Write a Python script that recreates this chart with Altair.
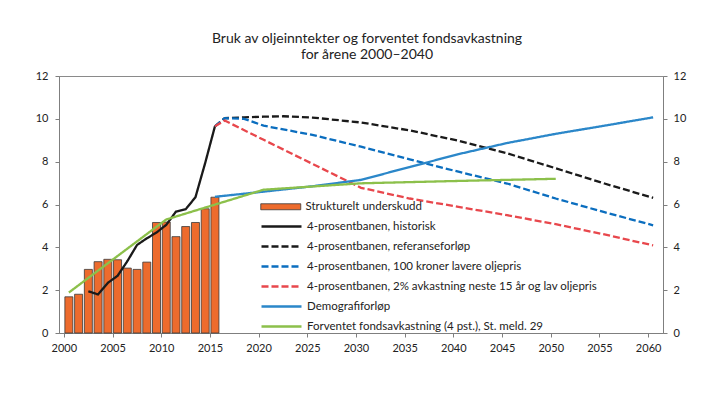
import altair as alt
import pandas as pd

# ---------------- data ----------------
bar_label = "Strukturelt underskudd"
bar_years = list(range(2000, 2016))
deficit = [1.69, 1.81, 2.97, 3.33, 3.44, 3.42, 3.03, 2.97, 3.31, 5.16, 5.18, 4.50, 4.97, 5.16, 5.80, 6.34]

s_hist = "4-prosentbanen, historisk"
hist_years = list(range(2002, 2016))
hist_vals = [1.95, 1.80, 2.34, 2.67, 3.35, 4.11, 4.42, 4.69, 5.05, 5.67, 5.78, 6.34, 7.94, 9.65]

s_ref = "4-prosentbanen, referanseforløp"
ref_years = [2015, 2016, 2018, 2020, 2022, 2025, 2030, 2035, 2040, 2045, 2050, 2055, 2060]
ref_vals = [9.65, 10.03, 10.07, 10.10, 10.12, 10.06, 9.83, 9.46, 8.98, 8.39, 7.69, 6.98, 6.31]

s_low = "4-prosentbanen, 100 kroner lavere oljepris"
low_years = [2015, 2016, 2018, 2020, 2025, 2030, 2035, 2040, 2045, 2050, 2055, 2060]
low_vals = [9.65, 10.03, 10.00, 9.68, 9.25, 8.70, 8.11, 7.53, 6.98, 6.28, 5.64, 5.03]

s_red = "4-prosentbanen, 2% avkastning neste 15 år og lav oljepris"
red_years = [2015, 2016, 2020, 2025, 2030, 2035, 2040, 2045, 2050, 2055, 2060]
red_vals = [9.65, 9.92, 9.02, 7.90, 6.78, 6.28, 5.89, 5.50, 5.08, 4.60, 4.09]

s_demo = "Demografiforløp"
demo_years = [2015, 2020, 2025, 2030, 2035, 2040, 2045, 2050, 2055, 2060]
demo_vals = [6.36, 6.60, 6.85, 7.15, 7.75, 8.35, 8.87, 9.30, 9.68, 10.07]

s_green = "Forventet fondsavkastning (4 pst.), St. meld. 29"
green_years = [2000, 2010, 2020, 2030, 2040, 2050]
green_vals = [1.89, 5.30, 6.69, 6.99, 7.10, 7.20]

x_ticks = list(range(2000, 2061, 5))
y_ticks = [0, 2, 4, 6, 8, 10, 12]

series_names = [s_hist, s_ref, s_low, s_red, s_demo, s_green]
series_colors = ["#1a1a1a", "#1a1a1a", "#0b6ebf", "#e8474c", "#2b87c9", "#8cc04b"]
series_dash = [[1, 0], [7, 3], [7, 3], [7, 3], [1, 0], [1, 0]]

title_lines = ["Bruk av oljeinntekter og forventet fondsavkastning", "for årene 2000–2040"]

FONT = "Lato"

# ---------------- tables ----------------
bar_df = pd.DataFrame({"year": bar_years, "value": deficit, "serie": bar_label})


def line_df(name, years, vals):
    return pd.DataFrame({"year": years, "value": vals, "serie": name})


x_enc = alt.X(
    "year:Q",
    scale=alt.Scale(domain=[1999.5, 2060.5], nice=False, zero=False),
    axis=alt.Axis(values=x_ticks, format="d", title=None, tickOffset=-5,
                  labelPadding=5, tickSize=4, grid=False),
)
y_scale = alt.Scale(domain=[0, 12], nice=False)

line_legend = alt.Legend(
    title=None, orient="none", legendX=216, legendY=144,
    symbolType="M-4,0H4", symbolSize=100, symbolStrokeWidth=2.5,
    labelOffset=19, rowPadding=8, labelLimit=500, padding=0,
)
color_scale = alt.Scale(domain=series_names, range=series_colors)
dash_scale = alt.Scale(domain=series_names, range=series_dash)

bars = alt.Chart(bar_df).mark_bar(size=8, stroke="#3a3a3a", strokeWidth=0.8).encode(
    x=x_enc,
    y=alt.Y("value:Q", scale=y_scale,
            axis=alt.Axis(values=y_ticks, orient="left", title=None, tickSize=4,
                          labelPadding=7, grid=False)),
    fill=alt.Fill("serie:N", scale=alt.Scale(domain=[bar_label], range=["#ed6b2d"]),
                  legend=alt.Legend(title=None, orient="none", legendX=216, legendY=125,
                                    symbolType="M-4,-0.6H4V0.6H-4Z", symbolSize=100,
                                    symbolStrokeColor="#3a3a3a", symbolStrokeWidth=0.8,
                                    labelOffset=19, labelLimit=500, padding=0)),
)


def line_layer(name, years, vals, right_axis=False):
    if right_axis:
        yax = alt.Axis(values=y_ticks, orient="right", title=None, tickSize=4,
                       labelPadding=6, grid=False)
    else:
        yax = None
    return alt.Chart(line_df(name, years, vals)).mark_line(strokeWidth=2.3).encode(
        x=x_enc,
        y=alt.Y("value:Q", scale=y_scale, axis=yax),
        color=alt.Color("serie:N", scale=color_scale, legend=line_legend),
        strokeDash=alt.StrokeDash("serie:N", scale=dash_scale, legend=line_legend),
    )


layers = [
    bars,
    line_layer(s_hist, hist_years, hist_vals),
    line_layer(s_ref, ref_years, ref_vals),
    line_layer(s_low, low_years, low_vals),
    line_layer(s_red, red_years, red_vals),
    line_layer(s_demo, demo_years, demo_vals),
    line_layer(s_green, green_years, green_vals, right_axis=True),
]

chart = alt.layer(*layers).resolve_axis(y="independent").properties(
    width=604,
    height=257,
    autosize=alt.AutoSizeParams(type="none"),
    padding={"left": 51, "top": 68, "right": 48, "bottom": 55},
    title=alt.Title(title_lines, anchor="middle", dx=6, fontSize=14, font=FONT,
                    fontWeight="normal", color="#222222", lineHeight=16.5, offset=8),
).configure_view(
    stroke="#8a8a8a", strokeWidth=1
).configure_axis(
    labelFont=FONT, labelFontSize=11, labelColor="#222222",
    domainColor="#7f7f7f", tickColor="#7f7f7f",
).configure_legend(
    labelFont=FONT, labelFontSize=11.5, labelColor="#222222",
)

chart.save("out.html", embed_options={"renderer": "svg", "actions": False})
